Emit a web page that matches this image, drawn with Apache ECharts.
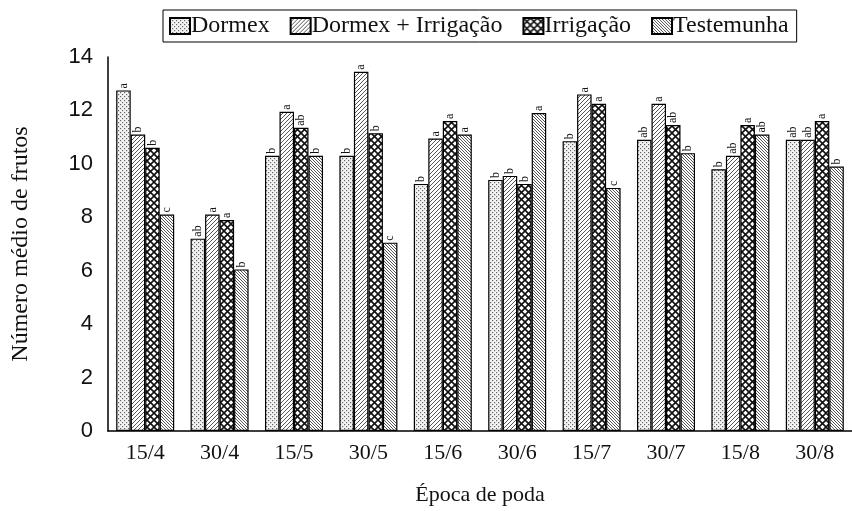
<!DOCTYPE html>
<html>
<head>
<meta charset="utf-8">
<script src="https://cdn.jsdelivr.net/npm/echarts@6/dist/echarts.min.js"></script>
<style>
  html, body { margin: 0; padding: 0; background: #fff; }
  #chart { width: 852px; height: 511px; }
</style>
</head>
<body>
<div id="chart"></div>
<script>
// época de poda
var categories = ['15/4', '30/4', '15/5', '30/5', '15/6', '30/6', '15/7', '30/7', '15/8', '30/8'];

// número médio de frutos
var dormex      = [12.75, 7.2, 10.3, 10.3, 9.25, 9.4, 10.85, 10.9, 9.8, 10.9];
var dormexIrrig = [11.1, 8.1, 11.95, 13.45, 10.95, 9.55, 12.6, 12.25, 10.3, 10.9];
var irrigacao   = [10.6, 7.9, 11.35, 11.15, 11.6, 9.25, 12.25, 11.45, 11.45, 11.6];
var testemunha  = [8.1, 6.05, 10.3, 7.05, 11.1, 11.9, 9.1, 10.4, 11.1, 9.9];

// letras (Tukey)
var ltDormex      = ['a', 'ab', 'b', 'b', 'b', 'b', 'b', 'ab', 'b', 'ab'];
var ltDormexIrrig = ['b', 'a', 'a', 'a', 'a', 'b', 'a', 'a', 'ab', 'ab'];
var ltIrrigacao   = ['b', 'a', 'ab', 'b', 'a', 'b', 'a', 'ab', 'a', 'a'];
var ltTestemunha  = ['c', 'b', 'b', 'c', 'a', 'a', 'c', 'b', 'ab', 'b'];

var yTicks = [0, 2, 4, 6, 8, 10, 12, 14];

/* padrões de preenchimento das barras */
function makePattern(kind) {
    var c = document.createElement('canvas');
    var ctx = c.getContext('2d');
    if (kind == 'dots') {
        c.width = 4; c.height = 4;
        ctx.fillStyle = '#f4f4f4';
        ctx.fillRect(0, 0, 4, 4);
        ctx.fillStyle = '#666';
        ctx.fillRect(0, 0, 1.2, 1.2);
        ctx.fillRect(2, 2, 1.2, 1.2);
    } else if (kind == 'slash') {
        c.width = 4; c.height = 4;
        ctx.fillStyle = '#fff';
        ctx.fillRect(0, 0, 4, 4);
        ctx.strokeStyle = '#555';
        ctx.lineWidth = 1;
        ctx.beginPath();
        ctx.moveTo(-1, 5); ctx.lineTo(5, -1);
        ctx.moveTo(-1, 1); ctx.lineTo(1, -1);
        ctx.moveTo(3, 5); ctx.lineTo(5, 3);
        ctx.stroke();
    } else if (kind == 'cross') {
        c.width = 7; c.height = 7;
        ctx.fillStyle = '#fff';
        ctx.fillRect(0, 0, 7, 7);
        ctx.strokeStyle = '#111';
        ctx.lineWidth = 1.6;
        ctx.beginPath();
        ctx.moveTo(-1, -1); ctx.lineTo(8, 8);
        ctx.moveTo(-1, 8); ctx.lineTo(8, -1);
        ctx.stroke();
    } else {
        c.width = 3; c.height = 3;
        ctx.fillStyle = '#fff';
        ctx.fillRect(0, 0, 3, 3);
        ctx.strokeStyle = '#444';
        ctx.lineWidth = 0.9;
        ctx.beginPath();
        ctx.moveTo(-1, -1); ctx.lineTo(4, 4);
        ctx.moveTo(2, -1); ctx.lineTo(4, 1);
        ctx.moveTo(-1, 2); ctx.lineTo(1, 4);
        ctx.stroke();
    }
    return { image: c, repeat: 'repeat' };
}

function makeSeries(name, values, letters, kind) {
    return {
        name: name,
        type: 'bar',
        data: values,
        barWidth: 14.5,
        barGap: '0%',
        itemStyle: {
            color: makePattern(kind),
            borderColor: '#000',
            borderWidth: 1.2
        },
        label: {
            show: true,
            position: 'top',
            rotate: 90,
            align: 'left',
            verticalAlign: 'middle',
            distance: 2,
            fontFamily: 'Liberation Serif',
            fontSize: 12,
            color: '#111',
            formatter: function (p) { return letters[p.dataIndex]; }
        }
    };
}

var chart = echarts.init(document.getElementById('chart'));
var option = {
    backgroundColor: '#fff',
    animation: false,
    legend: {
        top: 10,
        left: 163,
        padding: [4, 8, 4, 6],
        itemGap: 20,
        itemWidth: 20,
        itemHeight: 16,
        borderColor: '#000',
        borderWidth: 1,
        textStyle: { fontFamily: 'Liberation Serif', fontSize: 24, color: '#111', padding: [0, 0, 0, -4] },
        data: [
            { name: 'Dormex', icon: 'rect' },
            { name: 'Dormex + Irrigação', icon: 'rect' },
            { name: 'Irrigação', icon: 'rect' },
            { name: 'Testemunha', icon: 'rect' }
        ]
    },
    grid: { left: 108, width: 746, top: 57, bottom: 78 },
    xAxis: {
        type: 'category',
        data: categories,
        name: 'Época de poda',
        nameLocation: 'middle',
        nameGap: 53,
        nameTextStyle: { fontFamily: 'Liberation Serif', fontSize: 22, color: '#111' },
        axisLine: { lineStyle: { color: '#000', width: 1.5 } },
        axisTick: { show: false },
        axisLabel: { fontFamily: 'Liberation Serif', fontSize: 22, color: '#111', margin: 11 }
    },
    yAxis: {
        type: 'value',
        min: yTicks[0],
        max: yTicks[yTicks.length - 1],
        interval: 2,
        name: 'Número médio de frutos',
        nameLocation: 'middle',
        nameGap: 75,
        nameTextStyle: { fontFamily: 'Liberation Serif', fontSize: 24, color: '#111' },
        axisLine: { show: true, lineStyle: { color: '#000', width: 1.5 } },
        axisTick: { show: false },
        splitLine: { show: false },
        axisLabel: { fontFamily: 'Liberation Sans', fontSize: 22, color: '#111', margin: 15 }
    },
    series: [
        makeSeries('Dormex', dormex, ltDormex, 'dots'),
        makeSeries('Dormex + Irrigação', dormexIrrig, ltDormexIrrig, 'slash'),
        makeSeries('Irrigação', irrigacao, ltIrrigacao, 'cross'),
        makeSeries('Testemunha', testemunha, ltTestemunha, 'back')
    ]
};
chart.setOption(option);
</script>
</body>
</html>
